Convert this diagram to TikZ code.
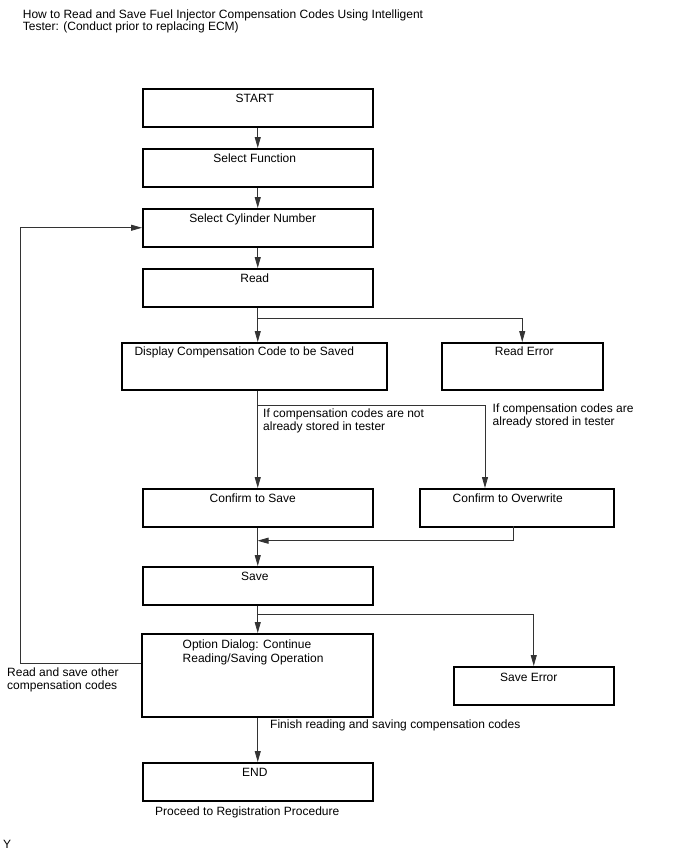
\documentclass[tikz,border=0pt]{standalone}
\usepackage{fontspec}
\setmainfont{Liberation Sans}
\usetikzlibrary{arrows.meta}

\begin{document}
\begin{tikzpicture}[x=1pt,y=-1pt,
  box/.style={draw,line width=1.5pt,anchor=north west,inner sep=0pt},
  boxtxt/.style={anchor=base,inner sep=0pt,font=\fontsize{12}{14}\selectfont},
  txt/.style={anchor=base west,inner sep=0pt,font=\fontsize{12}{14}\selectfont},
  flow/.style={draw=black!80,line width=0.8pt,-{Triangle[length=11pt,width=6pt]}}]
\useasboundingbox (0,0) rectangle (688,852);

%title
\node[txt] (title1) at (22.7,18.3) {How to Read and Save Fuel Injector Compensation Codes Using Intelligent};
\node[txt] (title2) at (22.7,30.7) {Tester: (Conduct prior to replacing ECM)};

%main column
\node[box,minimum width=230pt,minimum height=38pt] (start) at (142,88) {};
\node[box,minimum width=230pt,minimum height=38pt] (func) at (142,148) {};
\node[box,minimum width=230pt,minimum height=38pt] (cyl) at (142,208) {};
\node[box,minimum width=230pt,minimum height=38pt] (read) at (142,268) {};
\node[box,minimum width=265pt,minimum height=47pt] (disp) at (121,342) {};
\node[box,minimum width=230pt,minimum height=38pt] (confsave) at (142,488) {};
\node[box,minimum width=230pt,minimum height=38pt] (save) at (142,566) {};
\node[box,minimum width=231pt,minimum height=83pt] (opt) at (141,633) {};
\node[box,minimum width=230pt,minimum height=38pt] (stop) at (142,762) {};

%side boxes
\node[box,minimum width=161pt,minimum height=47pt] (readerr) at (441,342) {};
\node[box,minimum width=194pt,minimum height=38pt] (confover) at (419,488) {};
\node[box,minimum width=160pt,minimum height=38pt] (saveerr) at (453,666) {};

%box texts
\node[boxtxt] (t-start) at ([xshift=-3pt,yshift=-14pt]start.north) {START};
\node[boxtxt] (t-func) at ([xshift=-3pt,yshift=-14pt]func.north) {Select Function};
\node[boxtxt] (t-cyl) at ([xshift=-5pt,yshift=-14pt]cyl.north) {Select Cylinder Number};
\node[boxtxt] (t-read) at ([xshift=-3pt,yshift=-14pt]read.north) {Read};
\node[boxtxt] (t-disp) at ([xshift=-10pt,yshift=-13.5pt]disp.north) {Display Compensation Code to be Saved};
\node[boxtxt] (t-readerr) at ([xshift=2pt,yshift=-13.5pt]readerr.north) {Read Error};
\node[boxtxt] (t-confsave) at ([xshift=-5pt,yshift=-14pt]confsave.north) {Confirm to Save};
\node[boxtxt] (t-confover) at ([xshift=-9pt,yshift=-14pt]confover.north) {Confirm to Overwrite};
\node[boxtxt] (t-save) at ([xshift=-3pt,yshift=-14.5pt]save.north) {Save};
\node[txt] (t-opt1) at (182.5,648.3) {Option Dialog: Continue};
\node[txt] (t-opt2) at (182.5,662.7) {Reading/Saving Operation};
\node[boxtxt] (t-saveerr) at ([xshift=-5pt,yshift=-15.5pt]saveerr.north) {Save Error};
\node[boxtxt] (t-stop) at ([xshift=-3pt,yshift=-14pt]stop.north) {END};

%free labels
\node[txt] (l-new1) at (263,417) {If compensation codes are not};
\node[txt] (l-new2) at (263,430.5) {already stored in tester};
\node[txt] (l-old1) at (492.5,412) {If compensation codes are};
\node[txt] (l-old2) at (492.5,425.5) {already stored in tester};
\node[txt] (l-other1) at (7,676) {Read and save other};
\node[txt] (l-other2) at (7,689.5) {compensation codes};
\node[txt] (l-finish) at (270,728) {Finish reading and saving compensation codes};
\node[txt] (l-proceed) at (155,815) {Proceed to Registration Procedure};
\node[txt] (l-y) at (3,848) {Y};

%helper points
\coordinate (ovr-in) at (485,488);
\coordinate (ovr-out) at (513.5,526);
\coordinate (join) at (257.5,540.7);
\coordinate (loop-out) at (141,663);

%connectors
\draw[flow] (start) -- (func);
\draw[flow] (func) -- (cyl);
\draw[flow] (cyl) -- (read);
\draw[flow] (read.south) -- (read.south |- disp.north);
\draw[flow] (read.south) -- ++(0,10.7) -| (readerr.north);
\draw[flow] (confsave.north |- disp.south) -- (confsave.north);
\draw[flow] (confsave.north |- disp.south) -- ++(0,15) -| (ovr-in);
\draw[flow] (ovr-out) |- (join);
\draw[flow] (confsave) -- (save);
\draw[flow] (save.south) -- (save.south |- opt.north);
\draw[flow] (save.south) -- ++(0,9.3) -| (saveerr.north);
\draw[flow] (loop-out) -- ++(-120.5,0) |- (cyl.west);
\draw[flow] (opt.south -| stop.north) -- (stop.north);

\end{tikzpicture}
\end{document}
